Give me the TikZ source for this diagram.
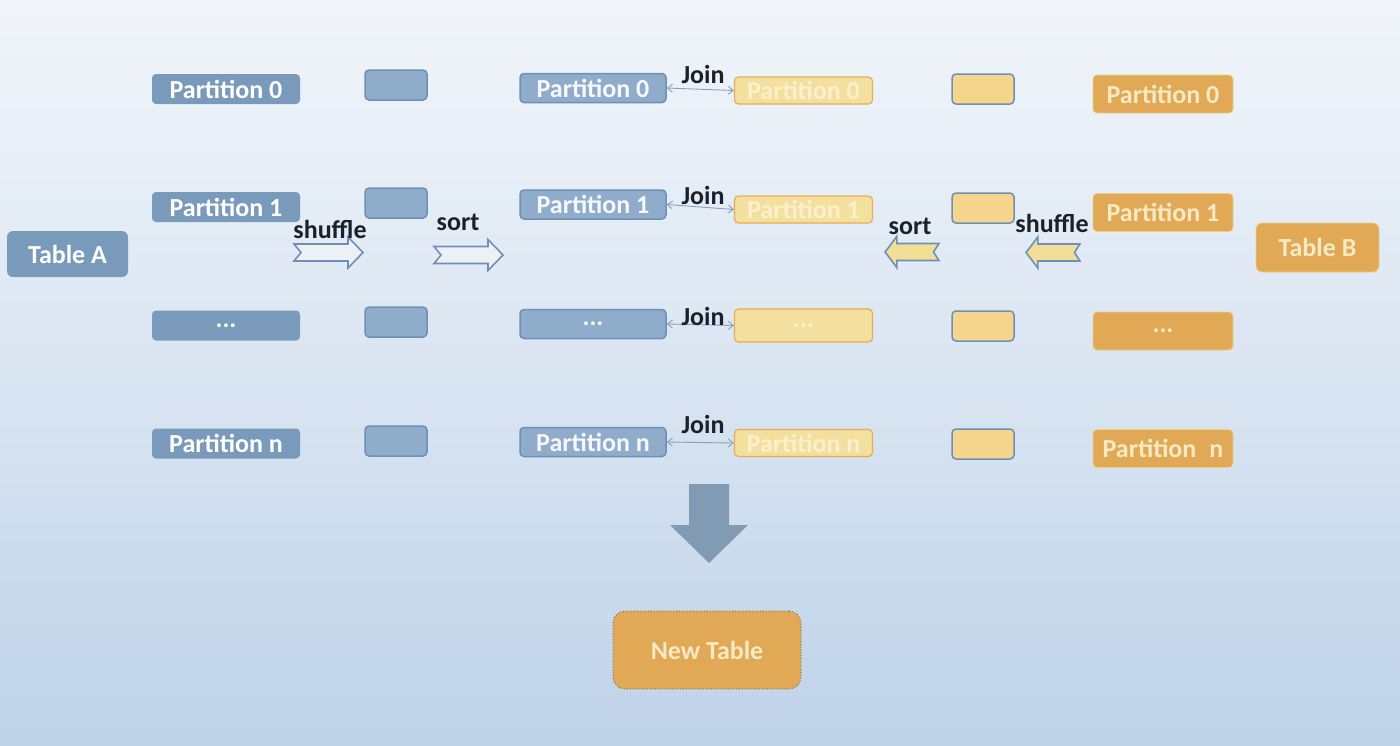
\documentclass[tikz,border=0pt]{standalone}
\usepackage{fontspec}
\setmainfont{Carlito}
\usetikzlibrary{arrows.meta}
\definecolor{bgtop}{RGB}{241,245,250}
\definecolor{bgbot}{RGB}{190,210,232}
\definecolor{blueA}{RGB}{122,154,187}
\definecolor{blueM}{RGB}{143,172,203}
\definecolor{blueE}{RGB}{110,144,184}
\definecolor{yelM}{RGB}{243,224,158}
\definecolor{yelE}{RGB}{232,172,84}
\definecolor{yelS}{RGB}{245,212,140}
\definecolor{orB}{RGB}{225,168,85}
\definecolor{cream}{RGB}{246,234,196}
\definecolor{faint}{RGB}{250,240,205}
\definecolor{ink}{RGB}{28,32,42}
\definecolor{arrowlight}{RGB}{236,241,246}
\definecolor{arrowyel}{RGB}{243,222,150}
\definecolor{downfill}{RGB}{130,155,180}
\tikzset{
  lbl/.style={font=\fontsize{26}{26}\selectfont\bfseries},
  boxbase/.style={lbl, rounded corners=4pt, inner sep=0pt, anchor=center},
  partA/.style={boxbase, fill=blueA, text=white, minimum width=148pt, minimum height=30pt},
  tblA/.style={boxbase, fill=blueA, text=white, rounded corners=6pt, minimum width=121pt, minimum height=46pt},
  smallB/.style={boxbase, fill=blueM, draw=blueE, line width=1.5pt, minimum width=62pt, minimum height=30pt},
  midB/.style={boxbase, fill=blueM, draw=blueE, line width=1.5pt, text=white!92!blueM, minimum width=146pt, minimum height=29pt},
  midY/.style={boxbase, fill=yelM, draw=yelE, line width=1.2pt, text=faint, minimum width=138pt, minimum height=27pt},
  smallY/.style={boxbase, fill=yelS, draw=blueE, line width=1.5pt, minimum width=62pt, minimum height=30pt},
  partB/.style={boxbase, fill=orB, draw=yelM!70!orB, line width=0.8pt, text=cream, minimum width=140pt, minimum height=38pt},
  tblB/.style={partB, rounded corners=6pt, minimum width=123pt, minimum height=49pt},
  newtbl/.style={boxbase, draw=ink!80, line width=0.8pt, dotted, text=cream, rounded corners=12pt, minimum width=188pt, minimum height=78pt},
  newtblfill/.style={boxbase, fill=orB, rounded corners=12pt, minimum width=188pt, minimum height=78pt},
  word/.style={lbl, text=ink, inner sep=0pt},
  joinline/.style={draw=blueE!85, line width=0.9pt, {Straight Barb[length=5pt,width=8pt]}-{Straight Barb[length=5pt,width=8pt]}},
  blockarrow/.style={draw=blueE, line width=1.6pt, line join=miter},
  notcharrow/.pic={
    \path[blockarrow, pic actions] (-34.5,-8.5) -- (19.5,-8.5) -- (19.5,-15.5) -- (34.5,0)
      -- (19.5,15.5) -- (19.5,8.5) -- (-34.5,8.5) -- (-27.5,0) -- cycle;
  }
}
\begin{document}
\begin{tikzpicture}[x=1pt,y=-1pt]
\useasboundingbox (0,0) rectangle (1400,745);
\shade[top color=bgtop, bottom color=bgbot, middle color=bgtop!55!bgbot] (0,0) rectangle (1400,745);

% Table A and its partitions
\node[tblA] (ta) at (67.5,254) {Table A};
\node[partA] (a0) at (226,89) {Partition 0};
\node[partA] (a1) at (226,207) {Partition 1};
\node[partA] (a2) at (226,325.5) {...};
\node[partA] (a3) at (226,443.5) {Partition n};

% shuffled blocks A
\node[smallB] (sa0) at (396,85) {};
\node[smallB] (sa1) at (396,203) {};
\node[smallB] (sa2) at (396,322) {};
\node[smallB] (sa3) at (396,441) {};

% sorted partitions A
\node[midB] (ma0) at (593,88) {Partition 0};
\node[midB] (ma1) at (593,204.5) {Partition 1};
\node[midB] (ma2) at (593,324) {...};
\node[midB] (ma3) at (593,442) {Partition n};

% sorted partitions B
\node[midY] (mb0) at (803.5,90.5) {Partition 0};
\node[midY] (mb1) at (803.5,209.5) {Partition 1};
\node[midY, minimum height=33pt] (mb2) at (803.5,325.5) {...};
\node[midY] (mb3) at (803.5,443) {Partition n};

% shuffled blocks B
\node[smallY] (sb0) at (983,89) {};
\node[smallY] (sb1) at (983,208) {};
\node[smallY] (sb2) at (983,326) {};
\node[smallY] (sb3) at (983,444) {};

% Table B and its partitions
\node[partB] (b0) at (1163,94) {Partition 0};
\node[partB] (b1) at (1163,212.5) {Partition 1};
\node[partB] (b2) at (1163,331) {...};
\node[partB] (b3) at (1163,448.5) {Partition\enspace n};
\node[tblB] (tb) at (1317.5,247.5) {Table B};

% joins
\draw[joinline] (ma0.east) -- (mb0.west);
\draw[joinline] (ma1.east) -- (mb1.west);
\draw[joinline] (ma2.east) -- (mb2.west);
\draw[joinline] (ma3.east) -- (mb3.west);
\node[word] (j0) at (703,74) {Join};
\node[word] (j1) at (703,195) {Join};
\node[word] (j2) at (703,316) {Join};
\node[word] (j3) at (703,424) {Join};

% block arrows and labels
\pic[fill=arrowlight] at (328.5,252.5) {notcharrow};
\pic[fill=arrowlight] at (468.5,255) {notcharrow};
\pic[fill=arrowyel, xscale=-0.78] at (912,252) {notcharrow};
\pic[fill=arrowyel, xscale=-0.78] at (1053,252.5) {notcharrow};
\node[word] (lsh) at (330,229) {shuffle};
\node[word] (lso) at (458,222) {sort};
\node[word] (rso) at (910,226) {sort};
\node[word] (rsh) at (1052,223) {shuffle};

% down arrow and result
\fill[downfill] (689,484) -- (729,484) -- (729,525) -- (748,525) -- (709,563)
  -- (670,525) -- (689,525) -- cycle;
\node[newtblfill] (nt) at (707,650) {};
\node[newtbl] at (nt) {New Table};
\end{tikzpicture}
\end{document}
